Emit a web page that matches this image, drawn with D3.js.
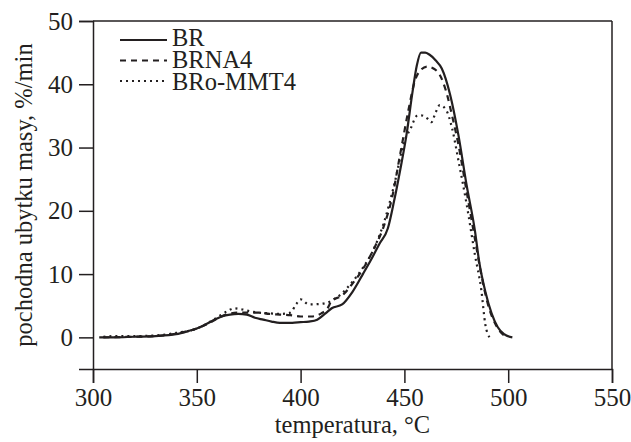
<!DOCTYPE html>
<html>
<head>
<meta charset="utf-8">
<script src="https://cdn.jsdelivr.net/npm/d3@7/dist/d3.min.js"></script>
<style>
  body { margin: 0; background: #fff; }
  text { font-family: "Liberation Serif", "Times New Roman", serif; fill: #231f20; }
</style>
</head>
<body>
<svg width="631" height="442"></svg>
<script>
// data: temperature (°C) and DTG (%/min)
var br_temp = [303, 310, 320, 330, 340, 346, 350, 354, 358, 362, 366, 370, 374, 378, 382, 386, 390, 396, 400, 404, 408, 412, 415, 420, 425, 430, 434, 438, 442, 445, 448, 451, 454, 456, 458, 460, 462, 465, 468, 472, 476, 480, 484, 486, 489, 492, 495, 498, 502];
var br_val  = [0, 0, 0.1, 0.2, 0.5, 1.0, 1.4, 2.0, 2.7, 3.3, 3.6, 3.7, 3.6, 3.1, 2.8, 2.5, 2.3, 2.3, 2.4, 2.5, 2.8, 3.8, 4.6, 5.2, 7.2, 10.0, 12.3, 14.8, 17.2, 21.5, 26.5, 32.0, 39.0, 43.0, 45.0, 45.0, 44.7, 43.8, 42.5, 38.4, 32.0, 24.0, 16.8, 12.0, 7.2, 3.8, 1.6, 0.5, 0];

var brna4_temp = [305, 320, 330, 340, 350, 355, 360, 365, 370, 375, 380, 385, 390, 395, 400, 405, 410, 413, 415, 420, 425, 430, 435, 440, 444, 448, 452, 455, 458, 461, 464, 467, 470, 473, 476, 480, 484, 487, 490, 494, 497, 500];
var brna4_val  = [0, 0.1, 0.2, 0.6, 1.4, 2.1, 3.0, 3.7, 3.9, 3.9, 3.9, 3.7, 3.6, 3.5, 3.3, 3.3, 3.8, 4.6, 5.8, 6.6, 8.5, 10.8, 13.8, 17.5, 22.0, 29.0, 36.0, 40.5, 42.3, 42.8, 42.5, 41.5, 39.0, 35.0, 30.5, 23.0, 15.5, 10.0, 5.5, 2.0, 0.6, 0];

var brommt4_temp = [305, 310, 320, 330, 340, 350, 355, 360, 365, 368, 372, 376, 380, 385, 390, 395, 398, 400, 404, 410, 415, 420, 425, 430, 435, 440, 445, 450, 453, 456, 458, 461, 463, 465, 467, 470, 473, 476, 480, 484, 487, 489, 491];
var brommt4_val  = [0.1, 0.2, 0.2, 0.3, 0.7, 1.4, 2.2, 3.2, 4.2, 4.6, 4.4, 4.1, 3.9, 3.8, 3.7, 3.9, 5.3, 6.0, 5.2, 5.3, 5.8, 7.0, 8.8, 11.0, 13.8, 18.0, 24.0, 31.0, 33.0, 35.0, 35.1, 34.6, 34.0, 35.5, 36.7, 36.0, 33.0, 28.0, 21.0, 13.0, 7.6, 2.0, 0];

var x_ticks = [300, 350, 400, 450, 500, 550];
var y_ticks = [0, 10, 20, 30, 40, 50];
var series_names = ["BR", "BRNA4", "BRo-MMT4"];

var svg = d3.select("svg"),
    margin = {top: 21, right: 19, bottom: 73, left: 93},
    width = +svg.attr("width") - margin.left - margin.right,
    height = +svg.attr("height") - margin.top - margin.bottom;

var g = svg.append("g").attr("transform", "translate(" + margin.left + "," + margin.top + ")");

var x = d3.scaleLinear().domain([300, 550]).range([0, width]);
var y = d3.scaleLinear().domain([-5, 50]).range([height, 0]);

// axes
var xAxis = g.append("g")
    .attr("transform", "translate(0," + height + ")")
    .call(d3.axisBottom(x).tickValues(x_ticks).tickSize(14).tickPadding(5));
var yAxis = g.append("g")
    .call(d3.axisLeft(y).tickValues(y_ticks).tickSize(14).tickPadding(6));

[xAxis, yAxis].forEach(function(a) {
  a.select(".domain").attr("stroke", "#231f20").attr("stroke-width", 1.5);
  a.selectAll(".tick line").attr("stroke", "#231f20").attr("stroke-width", 1.5);
  a.selectAll(".tick text")
    .style("font-family", "Liberation Serif, serif")
    .style("font-size", "25px")
    .attr("fill", "#231f20");
});

// frame: top and right
g.append("line").attr("x1", 0).attr("x2", width).attr("y1", 0).attr("y2", 0)
  .attr("stroke", "#231f20").attr("stroke-width", 1.5);
g.append("line").attr("x1", width).attr("x2", width).attr("y1", 0).attr("y2", height)
  .attr("stroke", "#231f20").attr("stroke-width", 1.5);

// curves
var dashes = [null, "6,5", "2,4"];
var sets = [
  d3.zip(br_temp, br_val),
  d3.zip(brna4_temp, brna4_val),
  d3.zip(brommt4_temp, brommt4_val)
];

var line = d3.line()
    .x(function(d) { return x(d[0]); })
    .y(function(d) { return y(d[1]); })
    .curve(d3.curveMonotoneX);

sets.forEach(function(s, i) {
  g.append("path")
    .datum(s)
    .attr("fill", "none")
    .attr("stroke", "#231f20")
    .attr("stroke-width", 2.2)
    .attr("stroke-dasharray", dashes[i])
    .attr("d", line);
});

// legend
var legend = g.append("g").attr("transform", "translate(27,19)");
series_names.forEach(function(name, i) {
  var row = legend.append("g").attr("transform", "translate(0," + (i * 20.5) + ")");
  row.append("line")
    .attr("x1", 0).attr("x2", 47).attr("y1", 0).attr("y2", 0)
    .attr("stroke", "#231f20").attr("stroke-width", 2)
    .attr("stroke-dasharray", dashes[i]);
  row.append("text")
    .attr("x", 52).attr("y", 6 + i * 1.5)
    .style("font-size", "24.5px")
    .text(name);
});

// axis titles
svg.append("text")
  .attr("x", margin.left + width / 2)
  .attr("y", 433)
  .attr("text-anchor", "middle")
  .style("font-size", "24.5px")
  .text("temperatura, °C");

svg.append("text")
  .attr("transform", "translate(32," + (margin.top + 174) + ") rotate(-90)")
  .attr("text-anchor", "middle")
  .style("font-size", "24.5px")
  .text("pochodna ubytku masy, %/min");
</script>
</body>
</html>
